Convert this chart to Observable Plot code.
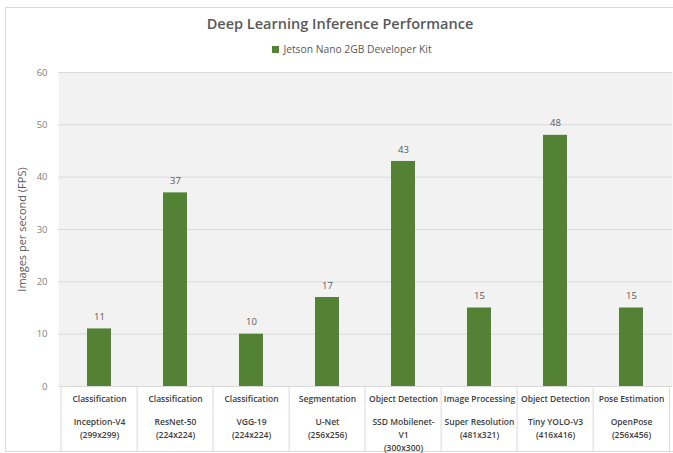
<!DOCTYPE html>
<html>
<head>
<meta charset="utf-8">
<script src="https://cdn.jsdelivr.net/npm/d3@7"></script>
<script src="https://cdn.jsdelivr.net/npm/@observablehq/plot@0.6"></script>
<style>
  html, body { margin: 0; padding: 0; background: #fff; }
  #wrap { position: relative; width: 673px; height: 453px; overflow: hidden; font-family: "Open Sans", sans-serif; }
  #border { position: absolute; left: 5px; top: 7px; width: 680px; height: 445px; border: 1px solid #d9d9d9; box-sizing: border-box; }
  #chart { position: absolute; left: 0; top: 0; }
  #title { position: absolute; left: 0; width: 680px; top: 14px; text-align: center; font-size: 14.5px; font-weight: 600; color: #595959; }
  #legend { position: absolute; left: 0; width: 704px; top: 42px; text-align: center; font-size: 10.3px; color: #595959; }
  #legend span.sw { display: inline-block; width: 7px; height: 7px; background: #548235; margin-right: 4px; vertical-align: 0px; }
</style>
</head>
<body>
<div id="wrap">
  <div id="border"></div>
  <div id="chart"></div>
  <div id="title">Deep Learning Inference Performance</div>
  <div id="legend"><span class="sw"></span>Jetson Nano 2GB Developer Kit</div>
</div>
<script>
const tasks = ["Classification", "Classification", "Classification", "Segmentation", "Object Detection", "Image Processing", "Object Detection", "Pose Estimation"];
const models = ["Inception-V4", "ResNet-50", "VGG-19", "U-Net", "SSD Mobilenet-V1", "Super Resolution", "Tiny YOLO-V3", "OpenPose"];
const modelLabels = ["Inception-V4", "ResNet-50", "VGG-19", "U-Net", "SSD Mobilenet-\nV1", "Super Resolution", "Tiny YOLO-V3", "OpenPose"];
const resolutions = ["(299x299)", "(224x224)", "(224x224)", "(256x256)", "(300x300)", "(481x321)", "(416x416)", "(256x456)"];
const fps = [11, 37, 10, 17, 43, 15, 48, 15];
const yTicks = [0, 10, 20, 30, 40, 50, 60];

const data = models.map((m, i) => ({model: m, task: tasks[i], label: modelLabels[i] + "\n" + resolutions[i], fps: fps[i]}));

const W = 673, H = 453, mL = 58, mR = 1, mT = 72, mB = 67;
const bw = (W - mL - mR) / models.length;
const belowUnits = -(mB - 1) / ((H - mT - mB) / 60);

const chart = Plot.plot({
  width: W,
  height: H,
  marginLeft: mL,
  marginRight: mR,
  marginTop: mT,
  marginBottom: mB,
  style: {fontFamily: "Open Sans, sans-serif", color: "#595959", background: "transparent"},
  x: {domain: models, padding: 0, axis: null},
  y: {domain: [0, 60]},
  marks: [
    Plot.frame({fill: "#f2f2f2", stroke: null}),
    Plot.gridY(yTicks, {stroke: "#d9d9d9", strokeOpacity: 1}),
    Plot.axisY(yTicks, {tickSize: 0, tickPadding: 11, fontSize: 9.5, fill: "#7f7f7f", label: null}),
    Plot.text(["Images per second (FPS)"], {text: d => d, frameAnchor: "left", textAnchor: "middle", dx: -36, rotate: -90, fontSize: 11, fill: "#595959"}),
    Plot.barY(data, {x: "model", y: "fps", fill: "#548235", insetLeft: 26, insetRight: 26}),
    Plot.text(data, {x: "model", y: "fps", text: d => String(d.fps), dy: -12, fontSize: 9.5, fill: "#595959"}),
    Plot.ruleX(models, {x: d => d, y1: 0, y2: belowUnits, dx: -bw / 2, stroke: "#d9d9d9"}),
    Plot.ruleX(models.slice(-1), {x: d => d, y1: 0, y2: belowUnits, dx: bw / 2 - 0.5, stroke: "#d9d9d9"}),
    Plot.text(data, {x: "model", frameAnchor: "bottom", text: "task", dy: 15, fontSize: 8.5, fontWeight: 600, fill: "#404040"}),
    Plot.text(data, {x: "model", frameAnchor: "bottom", text: "label", dy: 29, lineAnchor: "top", lineHeight: 1.55, fontSize: 8.5, fontWeight: 600, fill: "#404040"})
  ]
});
document.getElementById("chart").appendChild(chart);
</script>
</body>
</html>
